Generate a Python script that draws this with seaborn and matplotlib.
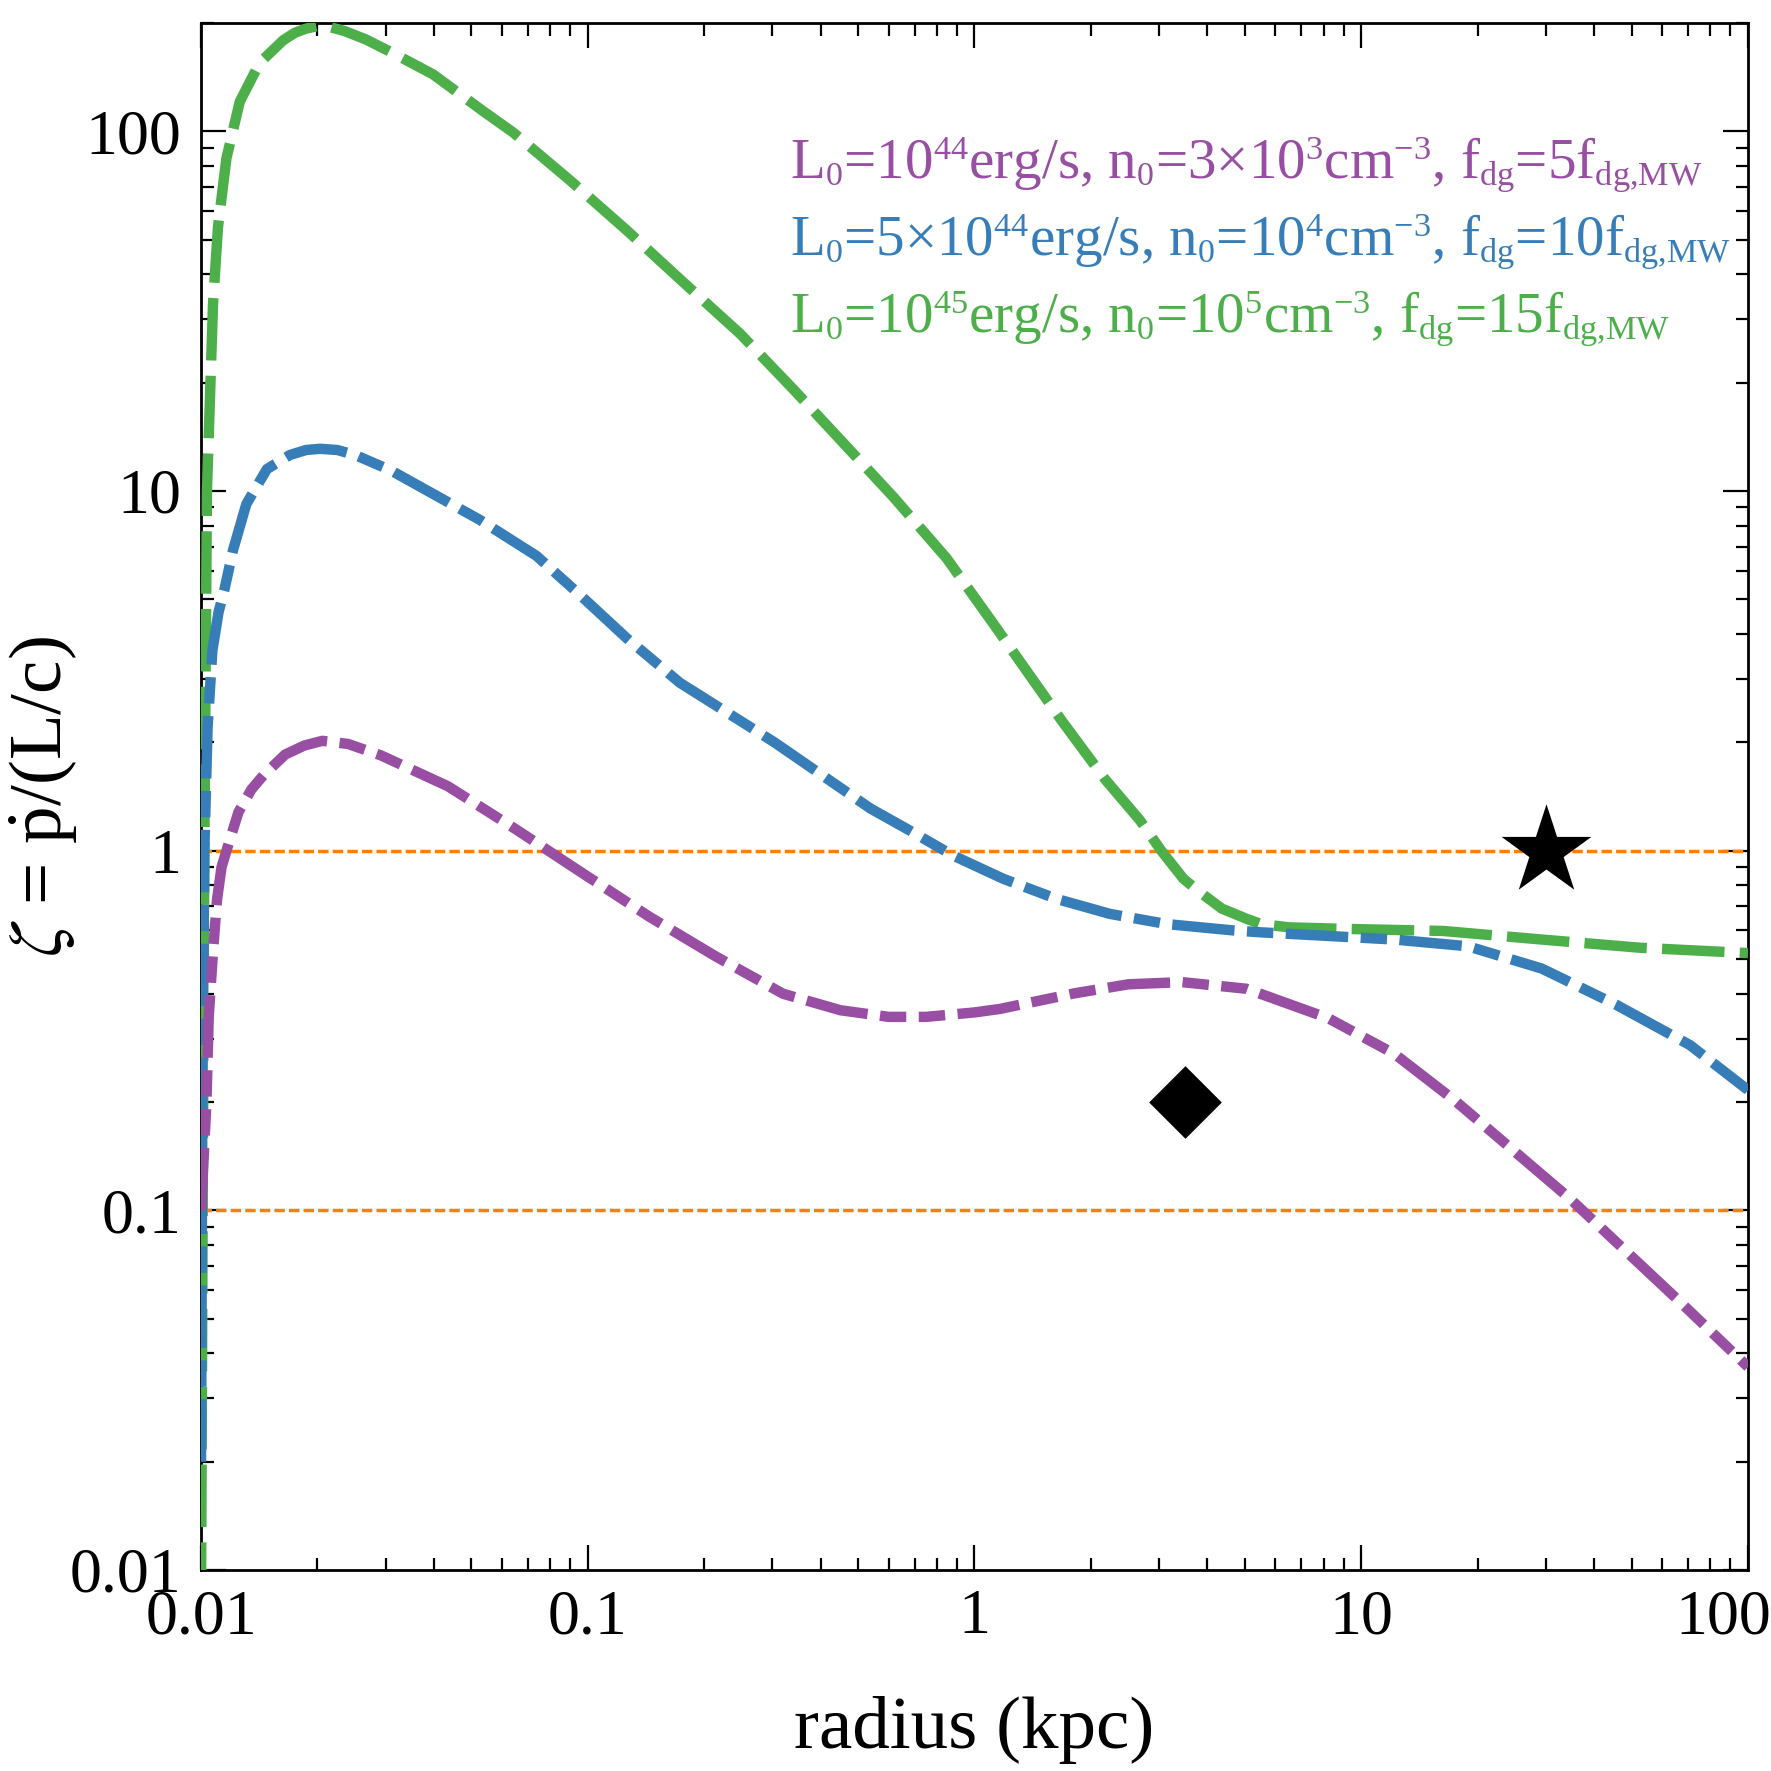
import numpy as np
import pandas as pd
import matplotlib
matplotlib.use("Agg")
import matplotlib.pyplot as plt
import matplotlib.ticker as mticker
import matplotlib.transforms as mtransforms
import seaborn as sns

try:  # smaller super/subscripts, closer to the reference typesetting
    import matplotlib._mathtext as _mt
    _mt.SHRINK_FACTOR = 0.6
except Exception:
    pass

# ---------------- data ----------------
green_r = [0.0100, 0.0101, 0.0102, 0.01036, 0.01074, 0.01106, 0.01163, 0.0126, 0.01418,
           0.0163, 0.0175, 0.0187, 0.0200, 0.0215, 0.0235, 0.0267, 0.031, 0.0398, 0.0535,
           0.0641, 0.0899, 0.126, 0.1764, 0.2474, 0.3397, 0.4578, 0.6166, 0.847, 1.118,
           1.68, 2.17, 2.68, 3.04, 3.47, 3.83, 4.36, 5.06, 5.51, 6.5, 9.08, 16.3, 29.3,
           52.7, 100.0]
green_z = [0.008, 0.1, 1.0, 10.0, 33.0, 54.0, 84.0, 121.0, 155.0,
           179.0, 188.0, 193.0, 196.0, 195.0, 190.0, 180.0, 166.0, 144.0, 114.0,
           99.3, 73.1, 53.1, 38.1, 27.4, 19.2, 13.6, 9.63, 6.50, 4.28,
           2.30, 1.585, 1.213, 1.0, 0.835, 0.766, 0.69, 0.646, 0.625, 0.612, 0.606, 0.598,
           0.566, 0.537, 0.519]

blue_r = [0.0100, 0.01008, 0.0102, 0.0104, 0.0107, 0.0111, 0.01151, 0.0121, 0.0131,
          0.0148, 0.0170, 0.0187, 0.0203, 0.0225, 0.025, 0.031, 0.0526, 0.0737, 0.0953,
          0.126, 0.173, 0.304, 0.538, 0.668, 0.881, 1.187, 1.631, 2.24, 3.14, 4.67, 5.47,
          12.2, 18.9, 29.3, 45.6, 70.8, 100.0]
blue_z = [0.02, 0.2, 1.0, 2.2, 3.6, 4.6, 5.35, 6.85, 9.2,
          11.5, 12.6, 13.0, 13.1, 13.0, 12.6, 11.4, 8.31, 6.6, 5.15,
          3.9, 2.93, 2.0, 1.31, 1.15, 0.969, 0.835, 0.734, 0.667, 0.625, 0.600, 0.593,
          0.566, 0.542, 0.470, 0.373, 0.288, 0.216]

purple_r = [0.0100, 0.01033, 0.01047, 0.01075, 0.0110, 0.0113, 0.0118, 0.0125, 0.0135,
            0.0145, 0.0165, 0.0185, 0.0206, 0.024, 0.0292, 0.0435, 0.0649, 0.0967,
            0.144, 0.215, 0.32, 0.45, 0.6, 0.75, 1.0, 1.164, 1.81, 2.5, 3.44, 5.05,
            8.22, 12.2, 17.5, 34.4, 66.2, 100.0]
purple_z = [0.10, 0.20, 0.345, 0.53, 0.73, 0.90, 1.05, 1.28, 1.48,
            1.62, 1.85, 1.96, 2.02, 1.98, 1.84, 1.51, 1.15, 0.867,
            0.656, 0.507, 0.40, 0.36, 0.345, 0.345, 0.355, 0.363, 0.401, 0.425, 0.431, 0.413,
            0.342, 0.272, 0.2015, 0.1085, 0.0561, 0.0367]

ref_levels = [1.0, 0.1]
star_r, star_z = [30.0], [1.0]
diamond_r, diamond_z = [3.5], [0.2]

labels = [r"L$_0$=10$^{44}$erg/s, n$_0$=3×10$^3$cm$^{-3}$, f$_{dg}$=5f$_{dg{,}MW}$",
          r"L$_0$=5×10$^{44}$erg/s, n$_0$=10$^4$cm$^{-3}$, f$_{dg}$=10f$_{dg{,}MW}$",
          r"L$_0$=10$^{45}$erg/s, n$_0$=10$^5$cm$^{-3}$, f$_{dg}$=15f$_{dg{,}MW}$"]
xticks = [0.01, 0.1, 1, 10, 100]
xtick_labels = ["0.01", "0.1", "1", "10", "100"]
yticks = [0.01, 0.1, 1, 10, 100]
ytick_labels = ["0.01", "0.1", "1", "10", "100"]

PURPLE, BLUE, GREEN, ORANGE = "#984ea3", "#377eb8", "#4daf4a", "#ff7f00"

# ---------------- style ----------------
sns.set_style("ticks")
plt.rcParams["font.family"] = ["Liberation Serif", "DejaVu Serif"]
plt.rcParams["mathtext.fontset"] = "stix"
plt.rcParams["mathtext.default"] = "regular"
plt.rcParams["lines.scale_dashes"] = False
for k in ["text.color", "axes.labelcolor", "xtick.color", "ytick.color",
          "xtick.labelcolor", "ytick.labelcolor", "axes.edgecolor"]:
    plt.rcParams[k] = "black"

fig = plt.figure(figsize=(17.71, 17.71), dpi=100)
ax = fig.add_axes([0.1135, 0.1135, 0.8735, 0.8735])
ax.set_xscale("log")
ax.set_yscale("log")

L, S, G = 45, 19, 9
series = [(green_r, green_z, GREEN, (0, (L, 11))),
          (blue_r, blue_z, BLUE, (0, (L, G, S, G))),
          (purple_r, purple_z, PURPLE, (0, (L, G, S, G, S, G)))]
for r, z, c, ls in series:
    df = pd.DataFrame({"r": r, "z": z})
    sns.lineplot(data=df, x="r", y="z", ax=ax, color=c, lw=7.5, linestyle=ls,
                 sort=False, estimator=None, zorder=3)

for lvl in ref_levels:
    ax.axhline(lvl, color=ORANGE, lw=2.5, linestyle=(0, (7.5, 3)), zorder=2)

sns.scatterplot(x=star_r, y=star_z, ax=ax, marker="*", s=68**2, color="black",
                linewidth=0, zorder=5)
sns.scatterplot(x=diamond_r, y=diamond_z, ax=ax, marker="D", s=37**2, color="black",
                linewidth=0, zorder=5)

ax.set_xlim(0.01, 100)
ax.set_ylim(0.01, 200)

ax.xaxis.set_major_locator(mticker.FixedLocator(xticks))
ax.xaxis.set_major_formatter(mticker.FixedFormatter(xtick_labels))
ax.yaxis.set_major_locator(mticker.FixedLocator(yticks))
ax.yaxis.set_major_formatter(mticker.FixedFormatter(ytick_labels))
ax.xaxis.set_minor_locator(mticker.LogLocator(base=10, subs=np.arange(2, 10), numticks=20))
ax.yaxis.set_minor_locator(mticker.LogLocator(base=10, subs=np.arange(2, 10), numticks=20))
ax.xaxis.set_minor_formatter(mticker.NullFormatter())
ax.yaxis.set_minor_formatter(mticker.NullFormatter())

ax.tick_params(which="both", direction="in", top=True, right=True, width=1.6, color="black")
ax.tick_params(which="major", length=18, labelsize=46, pad=14)
ax.tick_params(which="minor", length=9)
for s in ax.spines.values():
    s.set_linewidth(2.0)
    s.set_color("black")

ax.set_xlabel("radius (kpc)", fontsize=54, labelpad=35)
ax.set_ylabel(r"$\mathit{\zeta}$ = $\dot{p}$/(L/c)", fontsize=54)
ax.yaxis.set_label_coords(-0.078, 0.5)

for lab, c, yb in zip(labels, [PURPLE, BLUE, GREEN], [0.8995, 0.856, 0.8125]):
    fig.text(0.446, yb, lab, color=c, fontsize=41, va="baseline", ha="left")

# nudge the last x tick label ("100") left so it stays inside the figure
fig.canvas.draw()
last = ax.xaxis.get_major_ticks()[-1].label1
last.set_transform(last.get_transform() +
                   mtransforms.ScaledTranslation(-0.25, 0, fig.dpi_scale_trans))

fig.savefig("out.png", dpi=100)
